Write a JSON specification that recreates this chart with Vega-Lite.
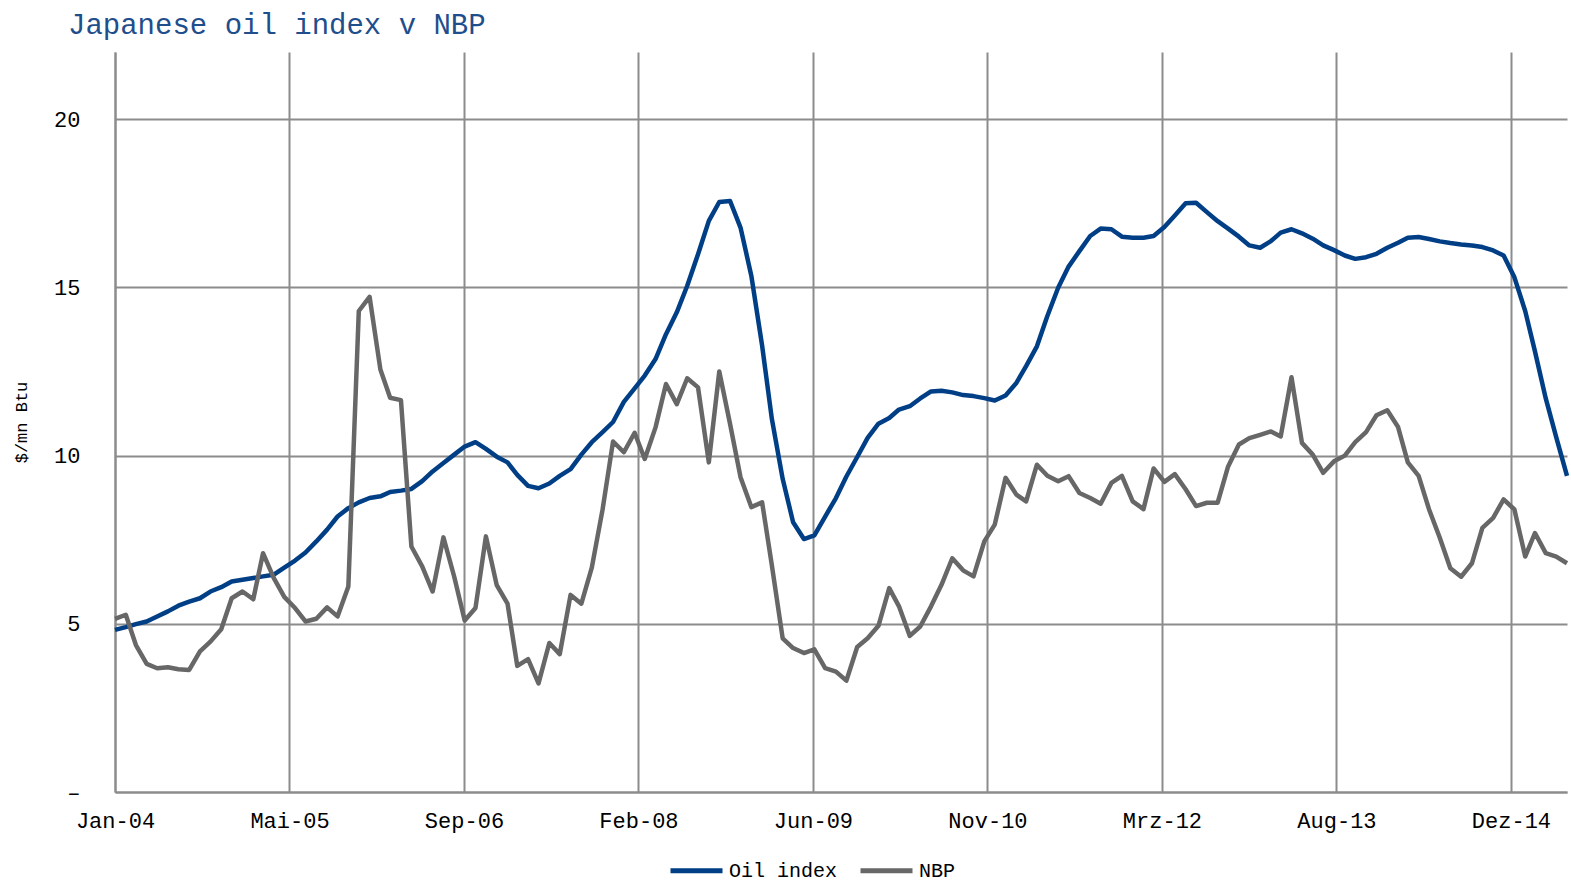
{
  "$schema": "https://vega.github.io/schema/vega-lite/v6.json",
  "width": 1452,
  "height": 740,
  "autosize": "none",
  "padding": {"left": 115, "top": 52, "right": 4, "bottom": 92},
  "background": "white",
  "title": {"text": "Japanese oil index v NBP", "anchor": "start", "frame": "group", "dx": -47, "offset": 12, "fontSize": 29, "font": "Liberation Mono", "fontWeight": "normal", "color": "#1F4E8C"},
  "config": {"view": {"stroke": null}},
  "data": {"values": [
    {"date": "2004-01-01", "Oil index": 4.82, "NBP": 5.15},
    {"date": "2004-02-01", "Oil index": 4.90, "NBP": 5.27},
    {"date": "2004-03-01", "Oil index": 4.99, "NBP": 4.37},
    {"date": "2004-04-01", "Oil index": 5.07, "NBP": 3.81},
    {"date": "2004-05-01", "Oil index": 5.22, "NBP": 3.68},
    {"date": "2004-06-01", "Oil index": 5.37, "NBP": 3.71},
    {"date": "2004-07-01", "Oil index": 5.54, "NBP": 3.65},
    {"date": "2004-08-01", "Oil index": 5.66, "NBP": 3.63},
    {"date": "2004-09-01", "Oil index": 5.76, "NBP": 4.18},
    {"date": "2004-10-01", "Oil index": 5.96, "NBP": 4.47},
    {"date": "2004-11-01", "Oil index": 6.09, "NBP": 4.84},
    {"date": "2004-12-01", "Oil index": 6.26, "NBP": 5.76},
    {"date": "2005-01-01", "Oil index": 6.31, "NBP": 5.96},
    {"date": "2005-02-01", "Oil index": 6.36, "NBP": 5.73},
    {"date": "2005-03-01", "Oil index": 6.41, "NBP": 7.10},
    {"date": "2005-04-01", "Oil index": 6.46, "NBP": 6.36},
    {"date": "2005-05-01", "Oil index": 6.67, "NBP": 5.80},
    {"date": "2005-06-01", "Oil index": 6.88, "NBP": 5.47},
    {"date": "2005-07-01", "Oil index": 7.12, "NBP": 5.07},
    {"date": "2005-08-01", "Oil index": 7.45, "NBP": 5.15},
    {"date": "2005-09-01", "Oil index": 7.80, "NBP": 5.49},
    {"date": "2005-10-01", "Oil index": 8.19, "NBP": 5.22},
    {"date": "2005-11-01", "Oil index": 8.44, "NBP": 6.11},
    {"date": "2005-12-01", "Oil index": 8.61, "NBP": 14.30},
    {"date": "2006-01-01", "Oil index": 8.74, "NBP": 14.72},
    {"date": "2006-02-01", "Oil index": 8.79, "NBP": 12.56},
    {"date": "2006-03-01", "Oil index": 8.92, "NBP": 11.72},
    {"date": "2006-04-01", "Oil index": 8.96, "NBP": 11.65},
    {"date": "2006-05-01", "Oil index": 9.01, "NBP": 7.30},
    {"date": "2006-06-01", "Oil index": 9.24, "NBP": 6.71},
    {"date": "2006-07-01", "Oil index": 9.53, "NBP": 5.96},
    {"date": "2006-08-01", "Oil index": 9.78, "NBP": 7.57},
    {"date": "2006-09-01", "Oil index": 10.03, "NBP": 6.40},
    {"date": "2006-10-01", "Oil index": 10.27, "NBP": 5.10},
    {"date": "2006-11-01", "Oil index": 10.40, "NBP": 5.47},
    {"date": "2006-12-01", "Oil index": 10.20, "NBP": 7.60},
    {"date": "2007-01-01", "Oil index": 9.97, "NBP": 6.15},
    {"date": "2007-02-01", "Oil index": 9.80, "NBP": 5.60},
    {"date": "2007-03-01", "Oil index": 9.43, "NBP": 3.75},
    {"date": "2007-04-01", "Oil index": 9.10, "NBP": 3.95},
    {"date": "2007-05-01", "Oil index": 9.03, "NBP": 3.23},
    {"date": "2007-06-01", "Oil index": 9.17, "NBP": 4.43},
    {"date": "2007-07-01", "Oil index": 9.40, "NBP": 4.10},
    {"date": "2007-08-01", "Oil index": 9.60, "NBP": 5.86},
    {"date": "2007-09-01", "Oil index": 10.03, "NBP": 5.60},
    {"date": "2007-10-01", "Oil index": 10.40, "NBP": 6.67},
    {"date": "2007-11-01", "Oil index": 10.70, "NBP": 8.40},
    {"date": "2007-12-01", "Oil index": 11.00, "NBP": 10.42},
    {"date": "2008-01-01", "Oil index": 11.60, "NBP": 10.10},
    {"date": "2008-02-01", "Oil index": 12.00, "NBP": 10.68},
    {"date": "2008-03-01", "Oil index": 12.38, "NBP": 9.90},
    {"date": "2008-04-01", "Oil index": 12.87, "NBP": 10.84},
    {"date": "2008-05-01", "Oil index": 13.61, "NBP": 12.13},
    {"date": "2008-06-01", "Oil index": 14.26, "NBP": 11.53},
    {"date": "2008-07-01", "Oil index": 15.05, "NBP": 12.30},
    {"date": "2008-08-01", "Oil index": 15.99, "NBP": 12.03},
    {"date": "2008-09-01", "Oil index": 16.98, "NBP": 9.80},
    {"date": "2008-10-01", "Oil index": 17.54, "NBP": 12.50},
    {"date": "2008-11-01", "Oil index": 17.57, "NBP": 10.94},
    {"date": "2008-12-01", "Oil index": 16.78, "NBP": 9.36},
    {"date": "2009-01-01", "Oil index": 15.35, "NBP": 8.47},
    {"date": "2009-02-01", "Oil index": 13.27, "NBP": 8.61},
    {"date": "2009-03-01", "Oil index": 11.09, "NBP": 6.74},
    {"date": "2009-04-01", "Oil index": 9.31, "NBP": 4.57},
    {"date": "2009-05-01", "Oil index": 8.02, "NBP": 4.28},
    {"date": "2009-06-01", "Oil index": 7.52, "NBP": 4.13},
    {"date": "2009-07-01", "Oil index": 7.63, "NBP": 4.24},
    {"date": "2009-08-01", "Oil index": 8.19, "NBP": 3.68},
    {"date": "2009-09-01", "Oil index": 8.74, "NBP": 3.58},
    {"date": "2009-10-01", "Oil index": 9.38, "NBP": 3.31},
    {"date": "2009-11-01", "Oil index": 9.96, "NBP": 4.31},
    {"date": "2009-12-01", "Oil index": 10.53, "NBP": 4.57},
    {"date": "2010-01-01", "Oil index": 10.95, "NBP": 4.94},
    {"date": "2010-02-01", "Oil index": 11.12, "NBP": 6.06},
    {"date": "2010-03-01", "Oil index": 11.37, "NBP": 5.52},
    {"date": "2010-04-01", "Oil index": 11.47, "NBP": 4.64},
    {"date": "2010-05-01", "Oil index": 11.70, "NBP": 4.92},
    {"date": "2010-06-01", "Oil index": 11.91, "NBP": 5.52},
    {"date": "2010-07-01", "Oil index": 11.93, "NBP": 6.16},
    {"date": "2010-08-01", "Oil index": 11.88, "NBP": 6.95},
    {"date": "2010-09-01", "Oil index": 11.80, "NBP": 6.59},
    {"date": "2010-10-01", "Oil index": 11.77, "NBP": 6.41},
    {"date": "2010-11-01", "Oil index": 11.71, "NBP": 7.45},
    {"date": "2010-12-01", "Oil index": 11.64, "NBP": 7.95},
    {"date": "2011-01-01", "Oil index": 11.79, "NBP": 9.34},
    {"date": "2011-02-01", "Oil index": 12.16, "NBP": 8.84},
    {"date": "2011-03-01", "Oil index": 12.66, "NBP": 8.64},
    {"date": "2011-04-01", "Oil index": 13.25, "NBP": 9.73},
    {"date": "2011-05-01", "Oil index": 14.15, "NBP": 9.40},
    {"date": "2011-06-01", "Oil index": 14.99, "NBP": 9.24},
    {"date": "2011-07-01", "Oil index": 15.62, "NBP": 9.39},
    {"date": "2011-08-01", "Oil index": 16.08, "NBP": 8.89},
    {"date": "2011-09-01", "Oil index": 16.53, "NBP": 8.74},
    {"date": "2011-10-01", "Oil index": 16.75, "NBP": 8.57},
    {"date": "2011-11-01", "Oil index": 16.73, "NBP": 9.19},
    {"date": "2011-12-01", "Oil index": 16.51, "NBP": 9.40},
    {"date": "2012-01-01", "Oil index": 16.48, "NBP": 8.64},
    {"date": "2012-02-01", "Oil index": 16.48, "NBP": 8.41},
    {"date": "2012-03-01", "Oil index": 16.53, "NBP": 9.62},
    {"date": "2012-04-01", "Oil index": 16.80, "NBP": 9.22},
    {"date": "2012-05-01", "Oil index": 17.14, "NBP": 9.45},
    {"date": "2012-06-01", "Oil index": 17.50, "NBP": 9.00},
    {"date": "2012-07-01", "Oil index": 17.52, "NBP": 8.50},
    {"date": "2012-08-01", "Oil index": 17.24, "NBP": 8.60},
    {"date": "2012-09-01", "Oil index": 16.97, "NBP": 8.60},
    {"date": "2012-10-01", "Oil index": 16.75, "NBP": 9.68},
    {"date": "2012-11-01", "Oil index": 16.51, "NBP": 10.33},
    {"date": "2012-12-01", "Oil index": 16.25, "NBP": 10.52},
    {"date": "2013-01-01", "Oil index": 16.18, "NBP": 10.62},
    {"date": "2013-02-01", "Oil index": 16.38, "NBP": 10.72},
    {"date": "2013-03-01", "Oil index": 16.63, "NBP": 10.57},
    {"date": "2013-04-01", "Oil index": 16.73, "NBP": 12.33},
    {"date": "2013-05-01", "Oil index": 16.61, "NBP": 10.38},
    {"date": "2013-06-01", "Oil index": 16.45, "NBP": 10.03},
    {"date": "2013-07-01", "Oil index": 16.25, "NBP": 9.49},
    {"date": "2013-08-01", "Oil index": 16.11, "NBP": 9.83},
    {"date": "2013-09-01", "Oil index": 15.95, "NBP": 10.00},
    {"date": "2013-10-01", "Oil index": 15.85, "NBP": 10.40},
    {"date": "2013-11-01", "Oil index": 15.90, "NBP": 10.70},
    {"date": "2013-12-01", "Oil index": 16.00, "NBP": 11.20},
    {"date": "2014-01-01", "Oil index": 16.18, "NBP": 11.35},
    {"date": "2014-02-01", "Oil index": 16.33, "NBP": 10.85},
    {"date": "2014-03-01", "Oil index": 16.48, "NBP": 9.80},
    {"date": "2014-04-01", "Oil index": 16.50, "NBP": 9.40},
    {"date": "2014-05-01", "Oil index": 16.44, "NBP": 8.40},
    {"date": "2014-06-01", "Oil index": 16.37, "NBP": 7.55},
    {"date": "2014-07-01", "Oil index": 16.32, "NBP": 6.65},
    {"date": "2014-08-01", "Oil index": 16.28, "NBP": 6.40},
    {"date": "2014-09-01", "Oil index": 16.25, "NBP": 6.80},
    {"date": "2014-10-01", "Oil index": 16.20, "NBP": 7.85},
    {"date": "2014-11-01", "Oil index": 16.10, "NBP": 8.15},
    {"date": "2014-12-01", "Oil index": 15.95, "NBP": 8.70},
    {"date": "2015-01-01", "Oil index": 15.30, "NBP": 8.40},
    {"date": "2015-02-01", "Oil index": 14.30, "NBP": 7.00},
    {"date": "2015-03-01", "Oil index": 13.10, "NBP": 7.70},
    {"date": "2015-04-01", "Oil index": 11.70, "NBP": 7.10},
    {"date": "2015-05-01", "Oil index": 10.55, "NBP": 7.00},
    {"date": "2015-06-01", "Oil index": 9.40, "NBP": 6.80}
  ]},
  "transform": [{"fold": ["Oil index", "NBP"], "as": ["series", "value"]}],
  "mark": {"type": "line", "strokeWidth": 4.5, "strokeJoin": "round"},
  "encoding": {
    "x": {
      "field": "date", "type": "temporal",
      "scale": {"domain": [{"year": 2004, "month": 1, "date": 1, "utc": true}, {"year": 2015, "month": 6, "date": 1, "utc": true}]},
      "axis": {
        "title": null,
        "values": [
          {"year": 2004, "month": 1, "date": 1, "utc": true},
          {"year": 2005, "month": 5, "date": 16, "utc": true},
          {"year": 2006, "month": 9, "date": 29, "utc": true},
          {"year": 2008, "month": 2, "date": 12, "utc": true},
          {"year": 2009, "month": 6, "date": 27, "utc": true},
          {"year": 2010, "month": 11, "date": 10, "utc": true},
          {"year": 2012, "month": 3, "date": 25, "utc": true},
          {"year": 2013, "month": 8, "date": 8, "utc": true},
          {"year": 2014, "month": 12, "date": 22, "utc": true}
        ],
        "labelExpr": "['Jan','Feb','Mrz','Apr','Mai','Jun','Jul','Aug','Sep','Okt','Nov','Dez'][utcmonth(datum.value)] + '-' + utcFormat(datum.value, '%y')",
        "labelFont": "Liberation Mono", "labelFontSize": 22, "labelColor": "#000000",
        "labelPadding": 18, "labelFlush": false, "labelOverlap": false, "labelBound": false,
        "ticks": false, "grid": true, "gridColor": "#8c8c8c", "gridWidth": 2,
        "domainColor": "#8c8c8c", "domainWidth": 2
      }
    },
    "y": {
      "field": "value", "type": "quantitative",
      "scale": {"domain": [0, 22], "nice": false},
      "axis": {
        "title": "$/mn Btu", "titleFont": "Liberation Mono", "titleFontSize": 17, "titleFontWeight": "normal", "titleColor": "#000000", "titleX": -85,
        "values": [0, 5, 10, 15, 20],
        "labelExpr": "datum.value == 0 ? '–' : datum.label",
        "labelFont": "Liberation Mono", "labelFontSize": 22, "labelColor": "#000000", "labelPadding": 35,
        "ticks": false, "grid": true, "gridColor": "#8c8c8c", "gridWidth": 2,
        "domainColor": "#8c8c8c", "domainWidth": 2
      }
    },
    "color": {
      "field": "series", "type": "nominal",
      "scale": {"domain": ["Oil index", "NBP"], "range": ["#003F85", "#676767"]},
      "legend": {
        "title": null, "orient": "none", "legendX": 553, "legendY": 790, "direction": "horizontal",
        "symbolType": "stroke", "symbolSize": 2704, "symbolStrokeWidth": 5,
        "labelFont": "Liberation Mono", "labelFontSize": 20, "labelColor": "#000000", "labelOffset": 4, "columnPadding": 12
      }
    }
  }
}
